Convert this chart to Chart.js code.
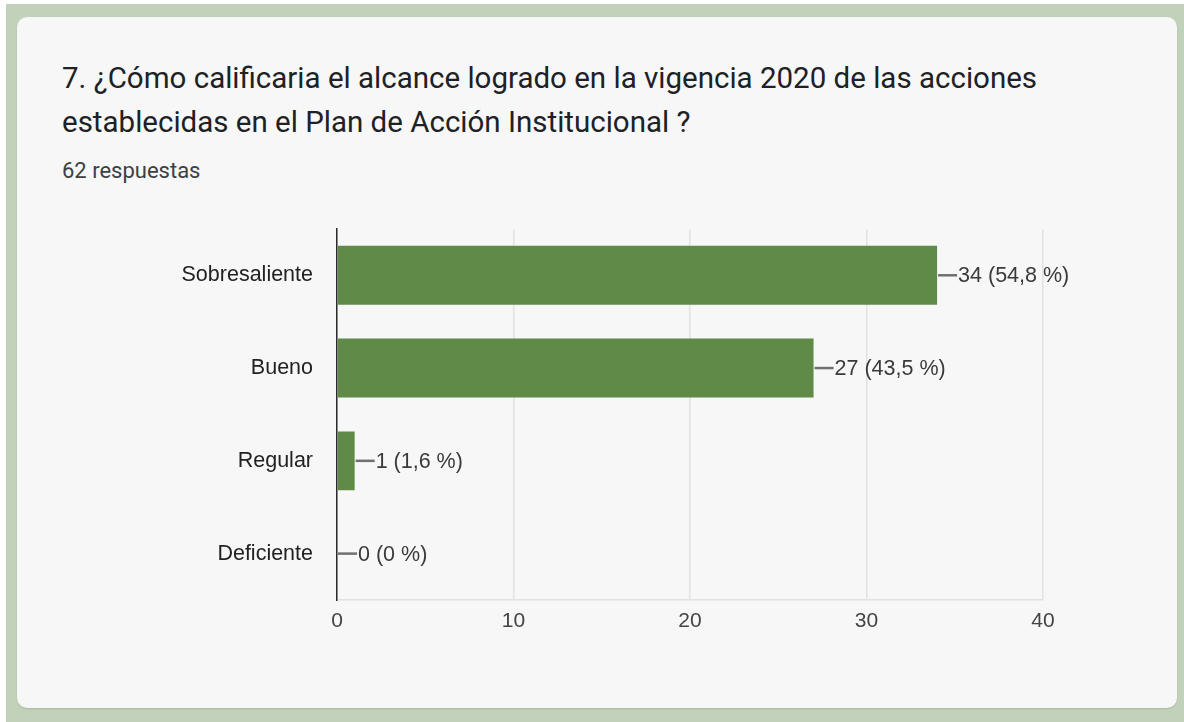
<!DOCTYPE html>
<html lang="es">
<head>
  <meta charset="UTF-8">
  <title>Alcance Plan de Acción Institucional 2020</title>
  <script src="https://cdn.jsdelivr.net/npm/chart.js"></script>
  <style>
    html, body { margin: 0; padding: 0; background: #ffffff; width: 1184px; height: 722px; overflow: hidden; }
    .frame { position: absolute; left: 6px; top: 4px; width: 1178px; height: 718px; background: #c2d1b9; }
    .card { position: absolute; left: 17px; top: 17px; width: 1160px; height: 691px; background: #f7f7f7;
            border-radius: 10px; box-shadow: 0 1px 2px rgba(0,0,0,0.12); }
    .title { position: absolute; left: 62px; top: 56px; font-family: Roboto, "Liberation Sans", sans-serif;
             font-size: 29.5px; line-height: 44px; color: #202124; }
    .count { position: absolute; left: 62px; top: 157px; font-family: Roboto, "Liberation Sans", sans-serif;
             font-size: 22px; line-height: 28px; color: #3c4043; }
    .chartbox { position: absolute; left: 100px; top: 192px; width: 1060px; height: 458px; }
  </style>
</head>
<body>
  <div class="frame"></div>
  <div class="card"></div>
  <div class="title">7. ¿Cómo calificaria el alcance logrado en la vigencia 2020 de las acciones<br>establecidas en el Plan de Acción Institucional ?</div>
  <div class="count">62 respuestas</div>
  <div class="chartbox"><canvas id="chart" width="1060" height="458"></canvas></div>

  <script>
    // data
    const categories = ['Sobresaliente', 'Bueno', 'Regular', 'Deficiente'];
    const responses = [34, 27, 1, 0];
    const percents = ['54,8', '43,5', '1,6', '0'];
    const xTicks = [0, 10, 20, 30, 40];

    const chartFont = '"Liberation Sans", Arial, sans-serif';

    // draws the little leader line + "n (p %)" next to each bar
    const valueLabels = {
      id: 'valueLabels',
      afterDatasetsDraw(chart) {
        const ctx = chart.ctx;
        const meta = chart.getDatasetMeta(0);
        ctx.save();
        meta.data.forEach((bar, i) => {
          const x = bar.x, y = bar.y;
          ctx.strokeStyle = '#707070';
          ctx.lineWidth = 2.5;
          ctx.beginPath();
          ctx.moveTo(x + 1, y);
          ctx.lineTo(x + 20, y);
          ctx.stroke();
          ctx.fillStyle = '#3a3a3a';
          ctx.font = '21.5px ' + chartFont;
          ctx.textAlign = 'left';
          ctx.textBaseline = 'middle';
          ctx.fillText(responses[i] + ' (' + percents[i] + ' %)', x + 21, y + 1);
        });
        ctx.restore();
      }
    };

    new Chart(document.getElementById('chart'), {
      type: 'bar',
      data: {
        labels: categories,
        datasets: [{
          data: responses,
          backgroundColor: '#5f8a48',
          borderWidth: 0,
          barPercentage: 0.635,
          categoryPercentage: 1.0
        }]
      },
      options: {
        indexAxis: 'y',
        responsive: false,
        animation: false,
        layout: { padding: { top: 3, right: 117, left: 0, bottom: 0 } },
        plugins: {
          legend: { display: false },
          tooltip: { enabled: false }
        },
        scales: {
          x: {
            min: 0,
            max: 40,
            afterBuildTicks: (axis) => { axis.ticks = xTicks.map(v => ({ value: v })); },
            afterFit: (axis) => { axis.height = 50; },
            grid: { color: '#e2e2e2', lineWidth: 1.5, drawTicks: false },
            border: { color: '#e2e2e2', width: 1.5 },
            ticks: {
              padding: 9,
              color: '#444444',
              font: { family: chartFont, size: 21 }
            }
          },
          y: {
            afterFit: (axis) => { axis.width = 237; },
            grid: { display: false, drawTicks: false },
            border: { color: '#2b2b2b', width: 1.5 },
            ticks: {
              padding: 24,
              color: '#222222',
              font: { family: chartFont, size: 21.5 }
            }
          }
        }
      },
      plugins: [valueLabels]
    });
  </script>
</body>
</html>
